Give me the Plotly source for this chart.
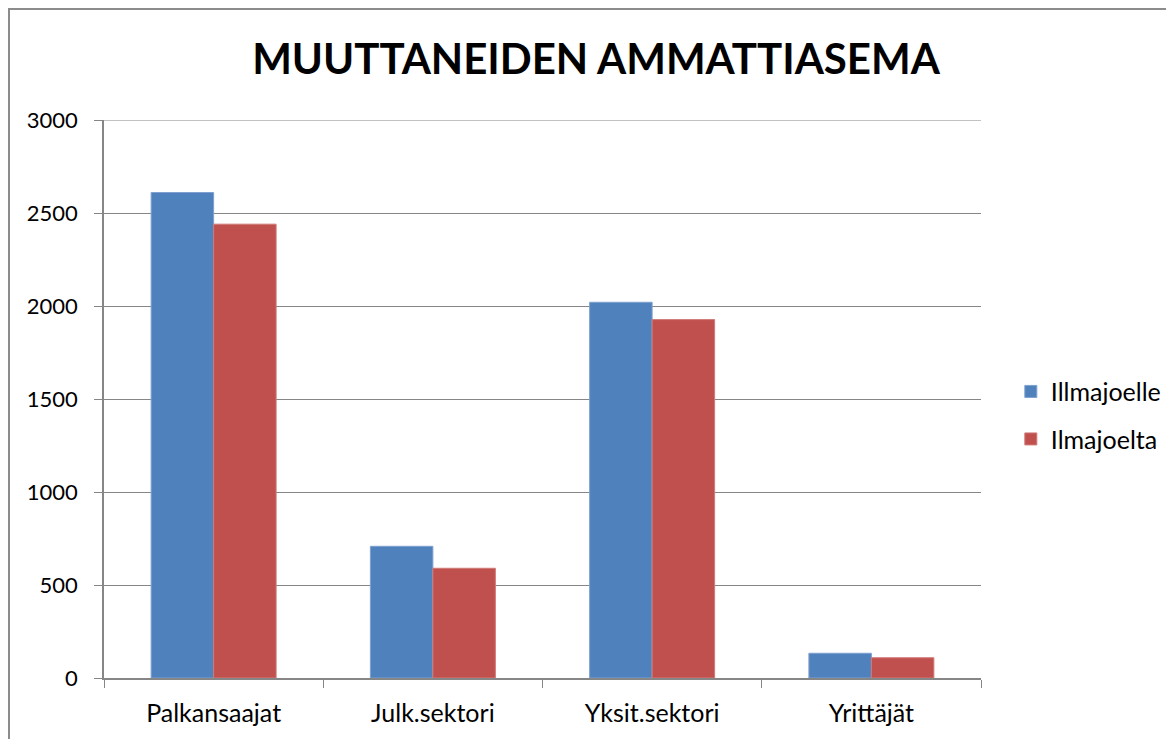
import plotly.graph_objects as go

CATEGORIES = ["Palkansaajat", "Julk.sektori", "Yksit.sektori", "Yrittäjät"]
ILLMAJOELLE = [2610, 708, 2020, 133]
ILMAJOELTA = [2440, 590, 1927, 109]
Y_TICKS = [0, 500, 1000, 1500, 2000, 2500, 3000]

FONT = "Lato"
GRID = "#868686"

fig = go.Figure()
fig.add_trace(go.Bar(
    x=CATEGORIES, y=ILLMAJOELLE, name="Illmajoelle",
    marker=dict(color="#4F81BD", line=dict(color="#7FA0CF", width=1)),
    legendgroup="a",
))
fig.add_trace(go.Bar(
    x=CATEGORIES, y=ILMAJOELTA, name="Ilmajoelta",
    marker=dict(color="#C0504D", line=dict(color="#D07A78", width=1)),
    legendgroup="b",
))

# outer chart-area border (runs off the right and bottom edges)
fig.add_shape(
    type="rect", xref="paper", yref="paper",
    x0=(9 - 104) / 877, x1=1.4, y0=-0.3, y1=(678 - 9) / 558,
    line=dict(color="#8C8C8C", width=2), layer="below",
)
# top gridline (plotly drops the one sitting on the range edge)
fig.add_shape(
    type="line", xref="paper", yref="y", x0=0, x1=1, y0=Y_TICKS[-1], y1=Y_TICKS[-1],
    line=dict(color=GRID, width=1.2), layer="below",
)

# page body adds an 8px offset, margins compensate for it
fig.update_layout(
    width=1174, height=739,
    margin=dict(l=96, r=201, t=112, b=69),
    paper_bgcolor="white", plot_bgcolor="white",
    font=dict(family=FONT, size=25, color="black"),
    title=dict(
        text="<b>MUUTTANEIDEN AMMATTIASEMA</b>",
        font=dict(family=FONT, size=42, color="black"),
        xref="container", x=(596 - 8) / 1174, xanchor="center",
        yref="container", y=1 - 51 / 739, yanchor="middle",
    ),
    barmode="group", bargap=0.43, bargroupgap=0,
    legend=dict(
        x=1.034, xanchor="left", y=0.471, yanchor="middle",
        font=dict(family=FONT, size=25), tracegroupgap=12,
        itemwidth=30,
    ),
    xaxis=dict(
        type="category", tickson="boundaries", ticks="outside", ticklen=8,
        tickcolor=GRID, showline=True, linecolor=GRID, linewidth=1.5,
        showgrid=False, ticklabelstandoff=12,
    ),
    yaxis=dict(
        range=[0, 3000], tickvals=Y_TICKS, ticks="outside", ticklen=8,
        tickcolor=GRID, showline=True, linecolor=GRID, linewidth=1.5,
        showgrid=True, gridcolor=GRID, gridwidth=1.2, zeroline=False,
        ticklabelstandoff=12, tickfont=dict(size=22),
    ),
)

fig.write_html("out.html")
